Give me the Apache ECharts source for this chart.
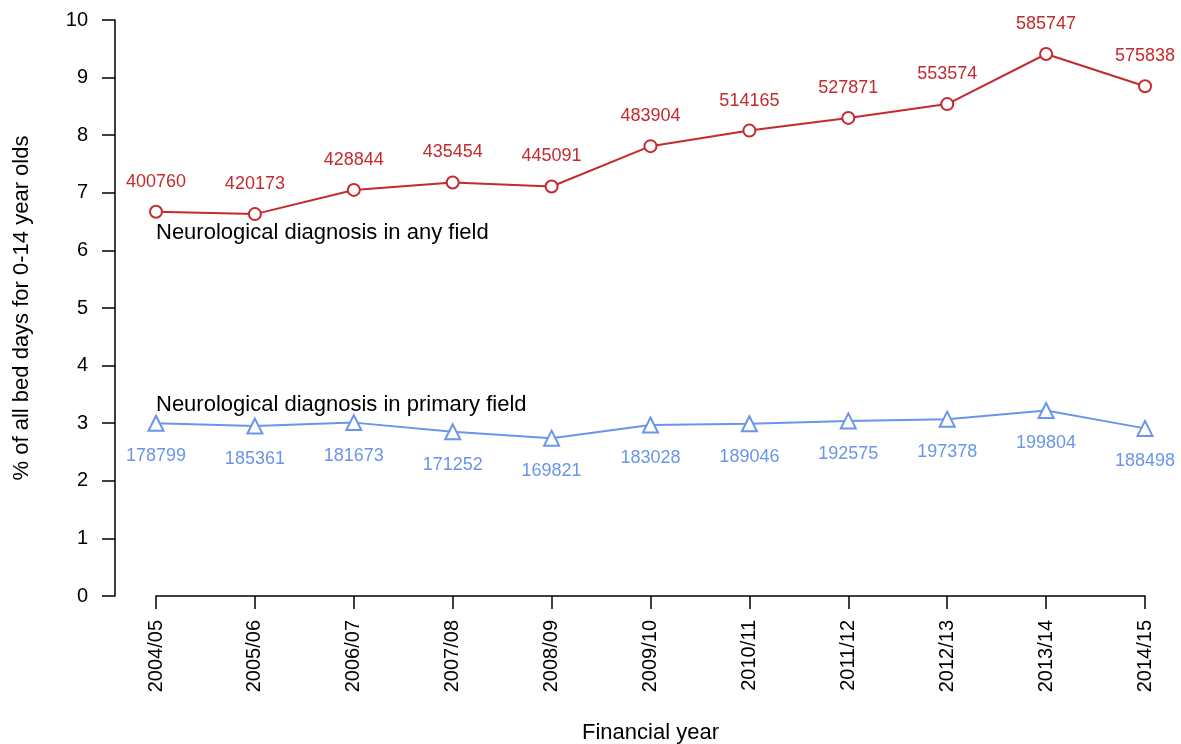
<!DOCTYPE html>
<html>
<head>
<meta charset="utf-8">
<script src="https://cdn.jsdelivr.net/npm/echarts@6/dist/echarts.min.js"></script>
<style>html,body{margin:0;padding:0;background:#fff}#c{width:1181px;height:744px}</style>
</head>
<body>
<div id="c"></div>
<script>
const years = ['2004/05','2005/06','2006/07','2007/08','2008/09','2009/10','2010/11','2011/12','2012/13','2013/14','2014/15'];
const anyFieldPct = [6.67, 6.63, 7.05, 7.18, 7.11, 7.81, 8.08, 8.30, 8.54, 9.41, 8.85];
const anyFieldDays = [400760, 420173, 428844, 435454, 445091, 483904, 514165, 527871, 553574, 585747, 575838];
const primaryPct = [3.00, 2.95, 3.01, 2.85, 2.74, 2.97, 2.99, 3.04, 3.07, 3.22, 2.91];
const primaryDays = [178799, 185361, 181673, 171252, 169821, 183028, 189046, 192575, 197378, 199804, 188498];
const yTicks = [0,1,2,3,4,5,6,7,8,9,10];
const anyLabel = 'Neurological diagnosis in any field';
const primaryLabel = 'Neurological diagnosis in primary field';

const FONT = 'Liberation Sans, Arial, sans-serif';
const RED = '#c42a2e';
const BLUE = '#6a95e8';
const chart = echarts.init(document.getElementById('c'));
chart.setOption({
  animation: false,
  backgroundColor: '#fff',
  textStyle: { fontFamily: FONT },
  grid: { left: 156, right: 36, top: 20, bottom: 148, containLabel: false, outerBoundsMode: 'none' },
  xAxis: {
    type: 'category', data: years, boundaryGap: false,
    axisLine: { lineStyle: { color: '#000', width: 1.5 } },
    axisTick: { length: 13, lineStyle: { color: '#000', width: 1.5 } },
    axisLabel: { rotate: 90, margin: 24, color: '#000', fontSize: 20, fontFamily: FONT },
    name: 'Financial year', nameLocation: 'middle', nameGap: 126,
    nameTextStyle: { color: '#000', fontSize: 22, fontFamily: FONT },
    splitLine: { show: false }
  },
  yAxis: {
    type: 'value', min: yTicks[0], max: yTicks[yTicks.length-1], interval: 1,
    offset: 41,
    axisLine: { show: true, lineStyle: { color: '#000', width: 1.5 } },
    axisTick: { show: true, length: 13, lineStyle: { color: '#000', width: 1.5 } },
    axisLabel: { margin: 27, color: '#000', fontSize: 20, fontFamily: FONT },
    splitLine: { show: false },
    name: '% of all bed days for 0-14 year olds', nameLocation: 'middle', nameGap: 82,
    nameRotate: 90,
    nameTextStyle: { color: '#000', fontSize: 22, fontFamily: FONT }
  },
  series: [
    {
      type: 'line', data: anyFieldPct, symbol: 'circle', symbolSize: 12,
      itemStyle: { color: '#fff', borderColor: RED, borderWidth: 2 },
      lineStyle: { color: RED, width: 2 },
      label: {
        show: true, position: 'inside', offset: [0, -30], color: RED, fontSize: 18, fontFamily: FONT,
        formatter: p => String(anyFieldDays[p.dataIndex])
      },
      markPoint: {
        symbol: 'circle', symbolSize: 0,
        label: { show: true, position: 'right', distance: 0, color: '#000', fontSize: 22, fontFamily: FONT, formatter: anyLabel },
        data: [{ coord: [years[0], 6.30] }]
      },
      z: 3
    },
    {
      type: 'line', data: primaryPct, symbol: 'triangle', symbolSize: 15,
      itemStyle: { color: '#fff', borderColor: BLUE, borderWidth: 2 },
      lineStyle: { color: BLUE, width: 2 },
      label: {
        show: true, position: 'inside', offset: [0, 33], color: BLUE, fontSize: 18, fontFamily: FONT,
        formatter: p => String(primaryDays[p.dataIndex])
      },
      markPoint: {
        symbol: 'circle', symbolSize: 0,
        label: { show: true, position: 'right', distance: 0, color: '#000', fontSize: 22, fontFamily: FONT, formatter: primaryLabel },
        data: [{ coord: [years[0], 3.31] }]
      },
      z: 3
    }
  ]
});
</script>
</body>
</html>
